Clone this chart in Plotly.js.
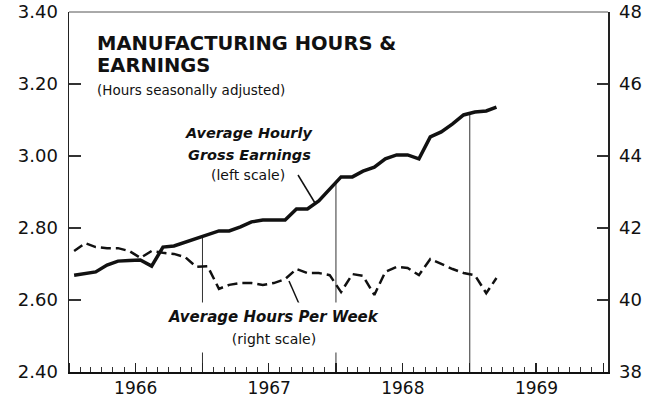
<!DOCTYPE html>
<html><head><meta charset="utf-8">
<script src="https://cdn.plot.ly/plotly-3.0.1.min.js"></script>
<style>html,body{margin:0;padding:0;background:#fff}#chart{width:655px;height:400px}</style>
</head><body><div id="chart"></div>
<script>
const months = [
 '1966-01-15','1966-02-15','1966-03-15','1966-04-15','1966-05-15','1966-06-15','1966-07-15','1966-08-15','1966-09-15','1966-10-15','1966-11-15','1966-12-15',
 '1967-01-15','1967-02-15','1967-03-15','1967-04-15','1967-05-15','1967-06-15','1967-07-15','1967-08-15','1967-09-15','1967-10-15','1967-11-15','1967-12-15',
 '1968-01-15','1968-02-15','1968-03-15','1968-04-15','1968-05-15','1968-06-15','1968-07-15','1968-08-15','1968-09-15','1968-10-15','1968-11-15','1968-12-15',
 '1969-01-15','1969-02-15','1969-03-15'];
const earnings = [2.669,2.675,2.678,2.697,2.708,2.710,2.711,2.694,2.747,2.750,2.761,2.772,
 2.783,2.792,2.792,2.803,2.817,2.822,2.822,2.822,2.853,2.853,2.875,2.908,
 2.942,2.942,2.958,2.969,2.992,3.003,3.003,2.992,3.053,3.067,3.089,3.114,
 3.122,3.125,3.136];
const hours = [41.36,41.58,41.47,41.44,41.44,41.36,41.17,41.36,41.31,41.28,41.19,40.92,
 40.94,40.31,40.42,40.47,40.47,40.42,40.47,40.58,40.86,40.75,40.75,40.69,
 40.22,40.72,40.67,40.14,40.78,40.92,40.89,40.69,41.14,41.00,40.86,40.75,
 40.69,40.19,40.61];
const yearBoundaries = ['1967-01-01','1968-01-01','1969-01-01'];
const leftTicks = [2.40,2.60,2.80,3.00,3.20,3.40];
const rightTicks = [38,40,42,44,46,48];

const FONT = '"DejaVu Sans", "Open Sans", sans-serif';
const INK = '#111';

const traces = [];
yearBoundaries.forEach(d => {
  const yr = d.slice(0,4);
  const j = months.findIndex(m => m.slice(0,4) === yr);
  const top = (earnings[j-1] + earnings[j]) / 2;
  traces.push({x:[d,d], y:[top, leftTicks[0]], mode:'lines', line:{color:'#333', width:1},
    hoverinfo:'skip', showlegend:false});
});
traces.push({x:months, y:earnings, mode:'lines', line:{color:INK, width:3.5}, showlegend:false, name:'Earnings'});
traces.push({x:months, y:hours, yaxis:'y2', mode:'lines', line:{color:INK, width:2.5, dash:'10px,5px'}, showlegend:false, name:'Hours'});
traces.push({x:[months[0]], y:[earnings[0]], xaxis:'x2', mode:'none', hoverinfo:'skip', showlegend:false});

const xr = ['1966-01-01','1970-01-14'];
const P = (px) => (px - 69) / 539;        // paper x from pixel
const Q = (py) => (372 - py) / 360;       // paper y from pixel
const layout = {
  width:655, height:400,
  margin:{l:69, r:47, t:12, b:28},
  paper_bgcolor:'#fff', plot_bgcolor:'#fff',
  font:{family:FONT, color:INK},
  xaxis:{type:'date', range:xr, tick0:'1966-01-01', dtick:'M12', tickformat:'%Y',
    ticklabelmode:'period', ticks:'inside', ticklen:9, tickwidth:1.2, tickcolor:'#222',
    minor:{dtick:'M1', tick0:'1966-01-01', ticks:'inside', ticklen:5, tickwidth:1, tickcolor:'#333'},
    showline:true, linewidth:2, linecolor:INK, showgrid:false, zeroline:false,
    tickfont:{size:17, family:FONT, color:INK}},
  xaxis2:{type:'date', range:xr, overlaying:'x', anchor:'y', tick0:'1966-07-01', dtick:'M12',
    ticks:'inside', ticklen:9, tickwidth:1.2, tickcolor:'#222', showticklabels:false,
    showline:false, showgrid:false, zeroline:false},
  yaxis:{range:[2.4,3.4], tickvals:leftTicks, tickformat:'.2f', ticks:'inside', ticklen:12,
    tickwidth:1.2, tickcolor:'#333', showline:true, linewidth:1.5, linecolor:'#222',
    ticklabelstandoff:6,
    showgrid:false, zeroline:false, tickfont:{size:18, family:FONT, color:INK}},
  yaxis2:{range:[38,48], tickvals:rightTicks, overlaying:'y', side:'right', ticks:'inside', ticklen:11,
    tickwidth:1.2, tickcolor:'#333', showline:true, linewidth:1.5, linecolor:'#222',
    ticklabelstandoff:6,
    showgrid:false, zeroline:false, tickfont:{size:18, family:FONT, color:INK}},
  shapes:[
    {type:'line', xref:'paper', yref:'paper', x0:0, x1:1, y0:1, y1:1, line:{color:'#555', width:1}},
    {type:'line', xref:'paper', yref:'paper', x0:P(298), y0:Q(175), x1:P(315), y1:Q(203), line:{color:INK, width:1.5}},
    {type:'line', xref:'paper', yref:'paper', x0:P(300), y0:Q(306), x1:P(289), y1:Q(281), line:{color:INK, width:1.5}}
  ],
  annotations:[
    {xref:'paper', yref:'paper', x:P(95), y:Q(43), xanchor:'left', yanchor:'middle',
     text:'<b>MANUFACTURING HOURS &amp;</b>', showarrow:false, font:{size:19.5, color:INK}},
    {xref:'paper', yref:'paper', x:P(95), y:Q(65), xanchor:'left', yanchor:'middle',
     text:'<b>EARNINGS</b>', showarrow:false, font:{size:19.5, color:INK}},
    {xref:'paper', yref:'paper', x:P(95), y:Q(90), xanchor:'left', yanchor:'middle',
     text:'(Hours seasonally adjusted)', showarrow:false, font:{size:13.5, color:INK}},
    {xref:'paper', yref:'paper', x:P(248), y:Q(133), xanchor:'center', yanchor:'middle',
     text:'<b><i>Average Hourly</i></b>', showarrow:false, font:{size:14.5, color:INK}},
    {xref:'paper', yref:'paper', x:P(249), y:Q(155), xanchor:'center', yanchor:'middle',
     text:'<b><i>Gross Earnings</i></b>', showarrow:false, font:{size:14.5, color:INK}},
    {xref:'paper', yref:'paper', x:P(248), y:Q(175), xanchor:'center', yanchor:'middle',
     text:'(left scale)', showarrow:false, font:{size:14, color:INK}},
    {xref:'paper', yref:'paper', x:P(273), y:Q(317), xanchor:'center', yanchor:'middle',
     text:'<b><i>Average Hours Per Week</i></b>', showarrow:false, font:{size:15, color:INK},
     bgcolor:'#fff', borderpad:5},
    {xref:'paper', yref:'paper', x:P(274), y:Q(339), xanchor:'center', yanchor:'middle', width:200,
     text:'(right scale)', showarrow:false, font:{size:14, color:INK},
     bgcolor:'#fff', borderpad:5}
  ]
};
Plotly.newPlot('chart', traces, layout, {staticPlot:true, displayModeBar:false});
</script></body></html>
